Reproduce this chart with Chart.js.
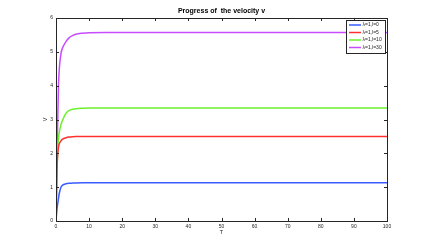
<!DOCTYPE html>
<html><head><meta charset="utf-8">
<script src="https://cdn.jsdelivr.net/npm/chart.js@4/dist/chart.umd.min.js"></script>
<style>html,body{margin:0;padding:0;background:#fff}#c{display:block}</style>
</head><body>
<canvas id="c" width="428" height="249"></canvas>
<script>
const times  = [0, 0.25, 0.5, 0.75, 1, 1.5, 2, 3, 4, 5, 6, 8, 10, 15, 20, 30, 40, 50, 60, 70, 80, 90, 100];
const vL0    = [0, 0.30, 0.50, 0.66, 0.82, 1.00, 1.06, 1.10, 1.115, 1.12, 1.125, 1.13, 1.13, 1.13, 1.13, 1.13, 1.13, 1.13, 1.13, 1.13, 1.13, 1.13, 1.13];
const vL5    = [0, 1.40, 1.95, 2.18, 2.28, 2.37, 2.42, 2.46, 2.48, 2.49, 2.495, 2.50, 2.50, 2.50, 2.50, 2.50, 2.50, 2.50, 2.50, 2.50, 2.50, 2.50, 2.50];
const vL10   = [0, 1.30, 2.10, 2.45, 2.62, 2.85, 2.98, 3.18, 3.27, 3.30, 3.32, 3.335, 3.34, 3.34, 3.34, 3.34, 3.34, 3.34, 3.34, 3.34, 3.34, 3.34, 3.34];
const vL30   = [0, 1.50, 2.90, 4.00, 4.50, 4.95, 5.12, 5.30, 5.42, 5.48, 5.52, 5.55, 5.565, 5.57, 5.57, 5.57, 5.57, 5.57, 5.57, 5.57, 5.57, 5.57, 5.57];
const seriesLabels = ["\u03bb=1,l=0", "\u03bb=1,l=5", "\u03bb=1,l=10", "\u03bb=1,l=30"];
const seriesColors = ["#3a5cff", "#ff3030", "#6cf02c", "#c84cff"];
const xTicks = [0,10,20,30,40,50,60,70,80,90,100];
const yTicks = [0,1,2,3,4,5,6];
const titleText = "Progress of  the velocity v";
const xTitle = "T", yTitle = "V";

const allSeries = [vL0, vL5, vL10, vL30];
const datasets = allSeries.map((vals, i) => ({
  label: seriesLabels[i],
  data: times.map((t, j) => ({x: t, y: vals[j]})),
  borderColor: seriesColors[i],
  backgroundColor: seriesColors[i],
  borderWidth: 1.5,
  pointRadius: 0,
  cubicInterpolationMode: 'monotone',
  fill: false
}));

const deco = {
  id: 'deco',
  afterDraw(chart) {
    const ctx = chart.ctx, a = chart.chartArea;
    const xs = chart.scales.x, ys = chart.scales.y;
    ctx.save();
    ctx.strokeStyle = '#262626'; ctx.lineWidth = 1;
    ctx.strokeRect(Math.round(a.left)+0.5, Math.round(a.top)+0.5, Math.round(a.right-a.left), Math.round(a.bottom-a.top));
    ctx.beginPath();
    xTicks.forEach(v => {
      const px = Math.round(xs.getPixelForValue(v)) + 0.5;
      ctx.moveTo(px, a.bottom); ctx.lineTo(px, a.bottom - 3);
      ctx.moveTo(px, a.top); ctx.lineTo(px, a.top + 3);
    });
    yTicks.forEach(v => {
      const py = Math.round(ys.getPixelForValue(v)) + 0.5;
      ctx.moveTo(a.left, py); ctx.lineTo(a.left + 3, py);
      ctx.moveTo(a.right, py); ctx.lineTo(a.right - 3, py);
    });
    ctx.stroke();
    ctx.fillStyle = '#000';
    ctx.font = 'bold 7px "Liberation Sans", Arial, sans-serif';
    ctx.textAlign = 'center'; ctx.textBaseline = 'middle';
    ctx.fillText(titleText, (a.left + a.right) / 2, 11);
    ctx.fillStyle = '#262626';
    ctx.font = '5.5px "Liberation Sans", Arial, sans-serif';
    ctx.fillText(xTitle, (a.left + a.right) / 2, 232);
    ctx.save();
    ctx.translate(45.5, (a.top + a.bottom) / 2);
    ctx.rotate(-Math.PI / 2);
    ctx.fillText(yTitle, 0, 0);
    ctx.restore();
    const lx = 346, ly = 20, lw = 39, lh = 33;
    ctx.fillStyle = '#fff';
    ctx.fillRect(lx, ly, lw, lh);
    ctx.strokeStyle = '#262626'; ctx.lineWidth = 1;
    ctx.strokeRect(lx + 0.5, ly + 0.5, lw, lh);
    ctx.font = '5px "Liberation Sans", Arial, sans-serif';
    ctx.textAlign = 'left'; ctx.textBaseline = 'middle';
    chart.data.datasets.forEach((d, i) => {
      const yy = ly + 5 + i * 7.5;
      ctx.strokeStyle = d.borderColor; ctx.lineWidth = 1.5;
      ctx.beginPath(); ctx.moveTo(lx + 3, yy); ctx.lineTo(lx + 15, yy); ctx.stroke();
      ctx.fillStyle = '#262626';
      ctx.fillText(d.label, lx + 16.5, yy);
    });
    ctx.restore();
  }
};

new Chart(document.getElementById('c'), {
  type: 'line',
  data: { datasets },
  options: {
    responsive: false,
    animation: false,
    devicePixelRatio: 1,
    layout: { padding: { left: 0, right: 41, top: 18, bottom: 0 } },
    plugins: { legend: { display: false }, title: { display: false }, tooltip: { enabled: false } },
    scales: {
      x: {
        type: 'linear', min: 0, max: 100,
        afterFit: s => { s.height = 28; },
        afterBuildTicks: s => { s.ticks = xTicks.map(v => ({value: v})); },
        grid: { display: false, drawTicks: false },
        border: { display: false },
        ticks: { color: '#262626', font: { size: 5, family: '"Liberation Sans", Arial, sans-serif' }, padding: 3, maxRotation: 0, autoSkip: false }
      },
      y: {
        type: 'linear', min: 0, max: 6,
        afterFit: s => { s.width = 56; },
        afterBuildTicks: s => { s.ticks = yTicks.map(v => ({value: v})); },
        grid: { display: false, drawTicks: false },
        border: { display: false },
        ticks: { color: '#262626', font: { size: 5, family: '"Liberation Sans", Arial, sans-serif' }, padding: 3, autoSkip: false }
      }
    }
  },
  plugins: [deco]
});
</script>
</body></html>
